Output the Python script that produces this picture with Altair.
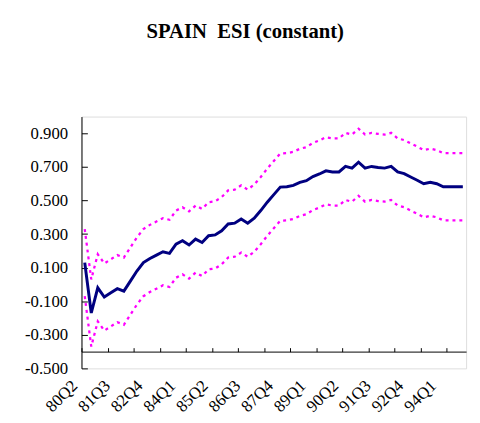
import altair as alt
import pandas as pd

quarters = [
    "80Q2", "80Q3", "80Q4",
    "81Q1", "81Q2", "81Q3", "81Q4",
    "82Q1", "82Q2", "82Q3", "82Q4",
    "83Q1", "83Q2", "83Q3", "83Q4",
    "84Q1", "84Q2", "84Q3", "84Q4",
    "85Q1", "85Q2", "85Q3", "85Q4",
    "86Q1", "86Q2", "86Q3", "86Q4",
    "87Q1", "87Q2", "87Q3", "87Q4",
    "88Q1", "88Q2", "88Q3", "88Q4",
    "89Q1", "89Q2", "89Q3", "89Q4",
    "90Q1", "90Q2", "90Q3", "90Q4",
    "91Q1", "91Q2", "91Q3", "91Q4",
    "92Q1", "92Q2", "92Q3", "92Q4",
    "93Q1", "93Q2", "93Q3", "93Q4",
    "94Q1", "94Q2", "94Q3", "94Q4",
]

esi_mean = [
    0.13, -0.17, -0.02, -0.075, -0.05, -0.025, -0.04, 0.02, 0.08, 0.13,
    0.155, 0.175, 0.195, 0.185, 0.24, 0.26, 0.235, 0.27, 0.25, 0.29,
    0.295, 0.32, 0.36, 0.365, 0.39, 0.365, 0.395, 0.44, 0.49, 0.535,
    0.58, 0.582, 0.59, 0.608, 0.618, 0.643, 0.658, 0.677, 0.67, 0.67,
    0.703, 0.693, 0.728, 0.693, 0.703, 0.697, 0.693, 0.703, 0.67, 0.66,
    0.64, 0.621, 0.60, 0.609, 0.60, 0.582, 0.582, 0.582, 0.582,
]

band_upper = [
    0.33, 0.03, 0.18, 0.125, 0.15, 0.175, 0.16, 0.22, 0.28, 0.33,
    0.355, 0.375, 0.395, 0.385, 0.44, 0.46, 0.435, 0.47, 0.45, 0.49,
    0.495, 0.52, 0.56, 0.565, 0.59, 0.565, 0.595, 0.64, 0.69, 0.735,
    0.78, 0.782, 0.79, 0.808, 0.818, 0.843, 0.858, 0.877, 0.87, 0.87,
    0.903, 0.893, 0.928, 0.893, 0.903, 0.897, 0.893, 0.903, 0.87, 0.86,
    0.84, 0.821, 0.80, 0.809, 0.80, 0.782, 0.782, 0.782, 0.782,
]

band_lower = [
    -0.07, -0.37, -0.22, -0.275, -0.25, -0.225, -0.24, -0.18, -0.12, -0.07,
    -0.045, -0.025, -0.005, -0.015, 0.04, 0.06, 0.035, 0.07, 0.05, 0.09,
    0.095, 0.12, 0.16, 0.165, 0.19, 0.165, 0.195, 0.24, 0.29, 0.335,
    0.38, 0.382, 0.39, 0.408, 0.418, 0.443, 0.458, 0.477, 0.47, 0.47,
    0.503, 0.493, 0.528, 0.493, 0.503, 0.497, 0.493, 0.503, 0.47, 0.46,
    0.44, 0.421, 0.40, 0.409, 0.40, 0.382, 0.382, 0.382, 0.382,
]

y_tick_values = [-0.5, -0.3, -0.1, 0.1, 0.3, 0.5, 0.7, 0.9]
x_label_index = [0, 5, 10, 15, 20, 25, 30, 35, 40, 45, 50, 55]
x_tick_bounds = [-0.5, 3.5, 7.5, 11.5, 15.5, 19.5, 23.5, 27.5, 31.5, 35.5,
                 39.5, 43.5, 47.5, 51.5, 55.5]

Y_MIN, Y_MAX = -0.5, 1.0
X_CROSS = -0.4
W, H = 391, 256
x_axis_offset = -(X_CROSS - Y_MIN) / (Y_MAX - Y_MIN) * H

df = pd.DataFrame({
    "idx": list(range(len(quarters))),
    "quarter": quarters,
    "mean": esi_mean,
    "upper": band_upper,
    "lower": band_lower,
})

FONT = "Liberation Serif"
x_scale = alt.Scale(domain=[-0.5, len(quarters) - 0.5], nice=False, zero=False)
y_scale = alt.Scale(domain=[Y_MIN, Y_MAX], nice=False, zero=False)

label_expr = "[" + ",".join("'%s'" % q for q in quarters) + "][round(datum.value)]"
y_label_expr = "(datum.value < 0 ? '-' : '') + format(abs(datum.value), '.3f')"

base = alt.Chart(df)

upper_line = base.mark_line(color="#FF00FF", strokeWidth=2.3, strokeDash=[3, 4]).encode(
    x=alt.X("idx:Q", scale=x_scale,
            axis=alt.Axis(orient="top", offset=-(H + x_axis_offset), values=x_tick_bounds,
                          labels=False, domain=False, ticks=True, tickSize=4,
                          tickColor="black", tickWidth=1, grid=False, title=None)),
    y=alt.Y("upper:Q", scale=y_scale,
            axis=alt.Axis(orient="right", offset=-W, values=y_tick_values,
                          labels=False, domain=False, ticks=True, tickSize=6,
                          tickColor="black", tickWidth=1, grid=False, title=None)),
)

lower_line = base.mark_line(color="#FF00FF", strokeWidth=2.3, strokeDash=[3, 4]).encode(
    x=alt.X("idx:Q", scale=x_scale, axis=None),
    y=alt.Y("lower:Q", scale=y_scale, axis=None),
)

mean_line = base.mark_line(color="#000080", strokeWidth=3).encode(
    x=alt.X("idx:Q", scale=x_scale,
            axis=alt.Axis(orient="bottom", offset=x_axis_offset, values=x_label_index,
                          labelExpr=label_expr, labelAngle=-45, labelAlign="right",
                          labelBaseline="top", labelPadding=26, labelOffset=-16,
                          labelOverlap=False, labelFlush=False,
                          ticks=False, tickSize=0, domain=True, domainColor="black",
                          domainWidth=1, grid=False, title=None,
                          labelFont=FONT, labelFontSize=17, labelColor="black")),
    y=alt.Y("mean:Q", scale=y_scale,
            axis=alt.Axis(orient="left", values=y_tick_values, labelExpr=y_label_expr,
                          ticks=False, tickSize=0, labelPadding=14, domain=True,
                          domainColor="black", domainWidth=1, grid=False, title=None,
                          labelFont=FONT, labelFontSize=17, labelColor="black")),
)

PAD = {"left": 74.7, "top": 107, "right": 6, "bottom": 44}

chart = alt.layer(upper_line, lower_line, mean_line).resolve_axis(
    x="independent", y="independent"
).properties(
    width=W,
    height=H,
    padding=PAD,
    autosize=alt.AutoSizeParams(type="none"),
    title=alt.TitleParams(
        "SPAIN\u00a0 ESI (constant)", font=FONT, fontSize=21, fontWeight="bold",
        color="black", anchor="middle", frame="group", dx=-29, offset=58.5,
        baseline="alphabetic",
    ),
).configure_view(stroke=None).configure(background="white")

chart.save("out.html", embed_options={"renderer": "svg", "actions": False})
